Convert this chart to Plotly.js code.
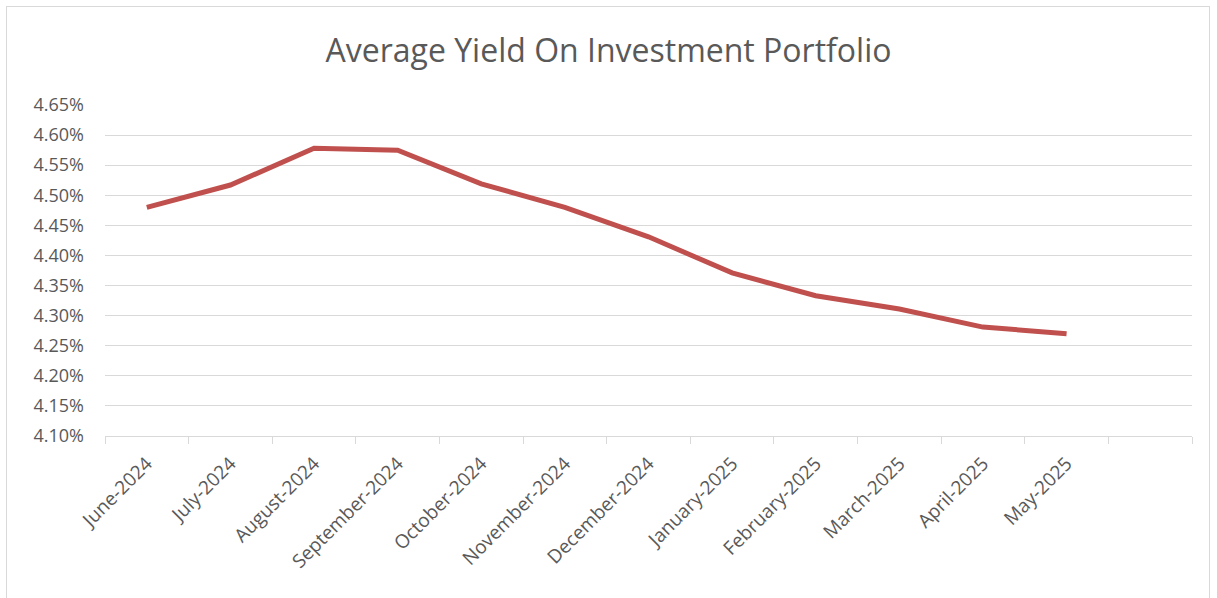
<!DOCTYPE html>
<html>
<head>
<meta charset="utf-8">
<script src="https://cdn.plot.ly/plotly-3.0.1.min.js"></script>
<style>
html,body{margin:0;padding:0;background:#fff;}
#frame{position:absolute;left:6px;top:6px;width:1204px;height:600px;border:1px solid #d9d9d9;box-sizing:border-box;}
#chart{position:absolute;left:0;top:0;width:1217px;height:598px;}
</style>
</head>
<body>
<div id="frame"></div>
<div id="chart"></div>
<script>
var months = ["June-2024","July-2024","August-2024","September-2024","October-2024","November-2024","December-2024","January-2025","February-2025","March-2025","April-2025","May-2025"];
var yieldValues = [0.04480,0.04517,0.04578,0.04575,0.04519,0.04480,0.04431,0.04371,0.04333,0.04311,0.04281,0.04270];
var chartTitle = "Average Yield On Investment Portfolio";

var trace = {
  x: months, y: yieldValues, type: "scatter", mode: "lines",
  line: {color: "#C0504D", width: 5, shape: "linear"},
  hoverinfo: "x+y"
};
var layout = {
  width: 1217, height: 598,
  paper_bgcolor: "rgba(0,0,0,0)", plot_bgcolor: "rgba(0,0,0,0)",
  margin: {l: 105, r: 25, t: 105, b: 162},
  title: {text: chartTitle, x: 0.5, xanchor: "center", y: 0.915, yanchor: "middle",
          font: {family: "Open Sans, Liberation Sans, sans-serif", size: 32, color: "#595959"}},
  showlegend: false,
  xaxis: {
    type: "category", categoryorder: "array", categoryarray: months.concat([" "]),
    range: [-0.5, 12.5], tickson: "boundaries", ticks: "outside", ticklen: 7, tickcolor: "#d9d9d9",
    showline: true, linecolor: "#d9d9d9", linewidth: 1, showgrid: false, zeroline: false,
    tickangle: -45, ticklabelstandoff: 8,
    tickfont: {family: "Open Sans, Liberation Sans, sans-serif", size: 19, color: "#595959"}
  },
  yaxis: {
    range: [0.041, 0.0465], tickvals: [0.041,0.0415,0.042,0.0425,0.043,0.0435,0.044,0.0445,0.045,0.0455,0.046,0.0465],
    tickformat: ".2%", showgrid: true, gridcolor: "#d9d9d9", gridwidth: 1, zeroline: false, showline: false,
    ticks: "", ticklabelstandoff: 20,
    tickfont: {family: "Open Sans, Liberation Sans, sans-serif", size: 18, color: "#595959"}
  }
};
Plotly.newPlot("chart", [trace], layout, {displayModeBar: false, staticPlot: true});
</script>
</body>
</html>
